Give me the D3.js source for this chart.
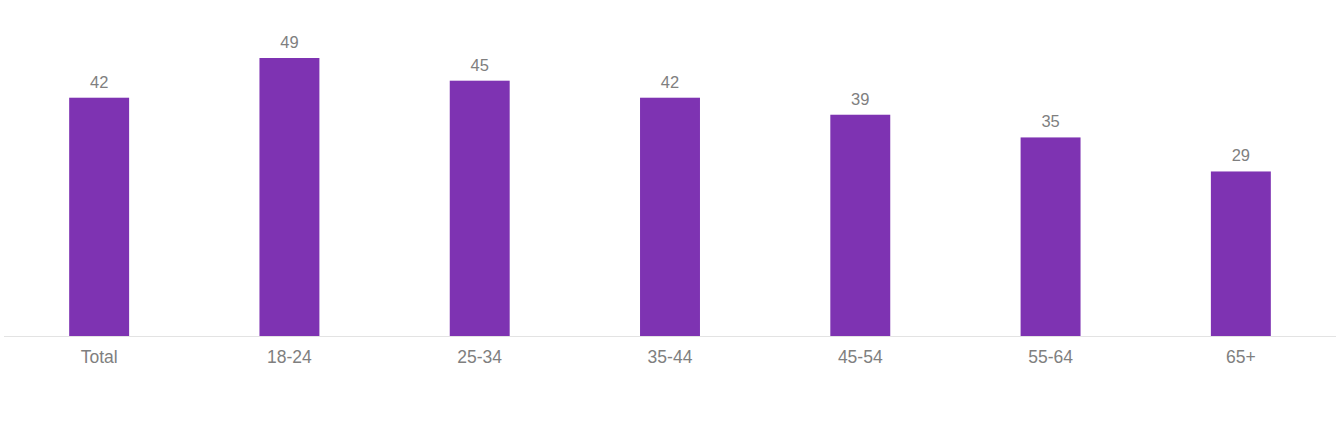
<!DOCTYPE html>
<html><head><meta charset="utf-8">
<script src="https://cdn.jsdelivr.net/npm/d3@7"></script>
<style>body{margin:0;background:#fff;}svg{display:block;font-family:"Liberation Sans",Arial,sans-serif;}</style>
</head><body>
<svg id="chart" width="1344" height="436"></svg>
<script>
const categories = ["Total","18-24","25-34","35-44","45-54","55-64","65+"];
const values = [42,49,45,42,39,35,29];

const svg = d3.select("#chart");
const baseline = 336;
const x = d3.scaleBand().domain(categories).range([4,1336]).paddingInner(0.685).paddingOuter(0.3425);
const y = d3.scaleLinear().domain([0,49]).range([baseline,58]);

svg.append("line").attr("x1",4).attr("x2",1336).attr("y1",baseline+0.5).attr("y2",baseline+0.5)
  .attr("stroke","#e3e3e3").attr("stroke-width",1);

svg.selectAll("rect.bar").data(values).join("rect").attr("class","bar")
  .attr("x",(d,i)=>x(categories[i])).attr("width",x.bandwidth())
  .attr("y",d=>y(d)).attr("height",d=>baseline-y(d)).attr("fill","#7e33b2");

svg.selectAll("text.val").data(values).join("text").attr("class","val")
  .attr("x",(d,i)=>x(categories[i])+x.bandwidth()/2).attr("y",d=>y(d)-10)
  .attr("text-anchor","middle").attr("font-size",16.5).attr("fill","#7f7f7f").text(d=>d);

svg.selectAll("text.cat").data(categories).join("text").attr("class","cat")
  .attr("x",d=>x(d)+x.bandwidth()/2).attr("y",363)
  .attr("text-anchor","middle").attr("font-size",17.5).attr("fill","#7f7f7f").text(d=>d);
</script>
</body></html>
